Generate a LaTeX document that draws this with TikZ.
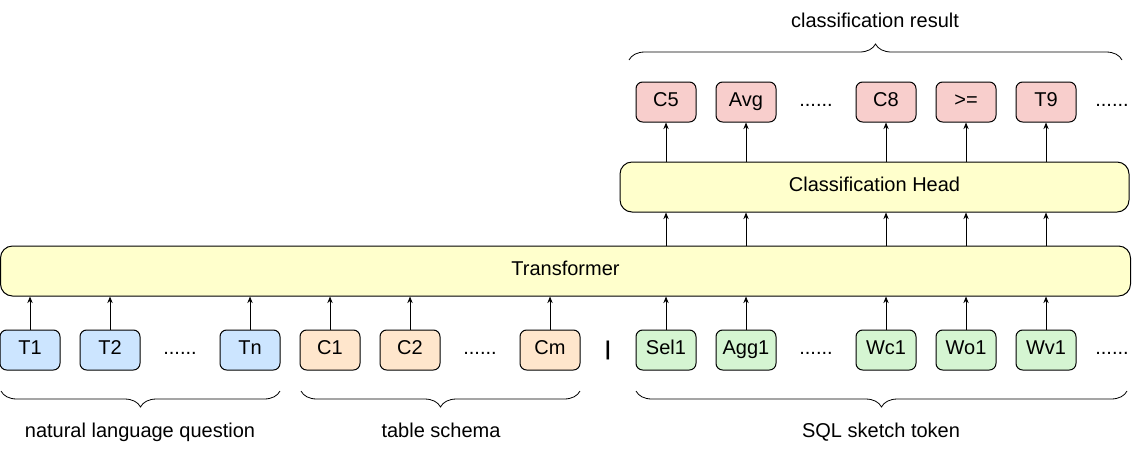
\documentclass[tikz,border=0pt]{standalone}
\usepackage{fontspec}
\setmainfont{Liberation Sans}
\usepackage{xcolor}
\usetikzlibrary{arrows.meta,decorations.pathreplacing}
\definecolor{tokblue}{HTML}{CCE5FF}
\definecolor{tokorange}{HTML}{FFE6CC}
\definecolor{tokgreen}{HTML}{D5F5D2}
\definecolor{tokred}{HTML}{F8CECC}
\definecolor{barfill}{HTML}{FFFFCC}

\begin{document}
\begin{tikzpicture}[x=0.75pt, y=-0.75pt, font=\fontsize{15}{18}\selectfont,
        tok/.style={draw, line width=0.75pt, rounded corners=5pt, minimum width=45pt, minimum height=30pt, inner sep=0pt, text height=0.716em, text depth=0pt},
        bar/.style={draw, line width=0.75pt, fill=barfill, rounded corners=9pt, minimum height=37.5pt, inner sep=0pt, text height=0.716em, text depth=0pt},
        dots/.style={inner sep=0pt, text height=0.716em, text depth=0pt},
        arr/.style={-{Stealth[length=5pt,width=4pt]}, line width=0.6pt},
        brc/.style={decorate, decoration={brace, amplitude=12pt}, line width=0.6pt}]
        \useasboundingbox (0,0) rectangle (1141,451);
        % big blocks
        \node[bar, minimum width=847.5pt] (trans) at (565.5,271) {Transformer};
        \node[bar, minimum width=381.75pt] (head) at (874.5,187) {Classification Head};
        % input tokens
        \node[tok, fill=tokblue] (t1) at (30,350) {T1};
        \node[tok, fill=tokblue] (t2) at (110,350) {T2};
        \node[dots] (d1) at (180,350) {......};
        \node[tok, fill=tokblue] (tn) at (250,350) {Tn};
        \node[tok, fill=tokorange] (c1) at (330,350) {C1};
        \node[tok, fill=tokorange] (c2) at (410,350) {C2};
        \node[dots] (d2) at (480,350) {......};
        \node[tok, fill=tokorange] (cm) at (550,350) {Cm};
        \node (sep) at (608,350) {\bfseries |};
        \node[tok, fill=tokgreen] (sel) at (666,350) {Sel1};
        \node[tok, fill=tokgreen] (agg) at (746,350) {Agg1};
        \node[dots] (d3) at (816,350) {......};
        \node[tok, fill=tokgreen] (wc) at (886,350) {Wc1};
        \node[tok, fill=tokgreen] (wo) at (966,350) {Wo1};
        \node[tok, fill=tokgreen] (wv) at (1046,350) {Wv1};
        \node[dots] (d4) at (1112,350) {......};
        % output tokens
        \node[tok, fill=tokred] (r1) at (666,102) {C5};
        \node[tok, fill=tokred] (r2) at (746,102) {Avg};
        \node[dots] (d5) at (816,102) {......};
        \node[tok, fill=tokred] (r3) at (886,102) {C8};
        \node[tok, fill=tokred] (r4) at (966,102) {>=};
        \node[tok, fill=tokred] (r5) at (1046,102) {T9};
        \node[dots] (d6) at (1112,102) {......};
        % arrows into the transformer
        \draw[arr] (t1) -- (t1 |- trans.south);
        \draw[arr] (t2) -- (t2 |- trans.south);
        \draw[arr] (tn) -- (tn |- trans.south);
        \draw[arr] (c1) -- (c1 |- trans.south);
        \draw[arr] (c2) -- (c2 |- trans.south);
        \draw[arr] (cm) -- (cm |- trans.south);
        \draw[arr] (sel) -- (sel |- trans.south);
        \draw[arr] (agg) -- (agg |- trans.south);
        \draw[arr] (wc) -- (wc |- trans.south);
        \draw[arr] (wo) -- (wo |- trans.south);
        \draw[arr] (wv) -- (wv |- trans.south);
        % transformer to head
        \draw[arr] (trans.north -| sel) -- (head.south -| sel);
        \draw[arr] (trans.north -| agg) -- (head.south -| agg);
        \draw[arr] (trans.north -| wc) -- (head.south -| wc);
        \draw[arr] (trans.north -| wo) -- (head.south -| wo);
        \draw[arr] (trans.north -| wv) -- (head.south -| wv);
        % head to results
        \draw[arr] (r1 |- head.north) -- (r1);
        \draw[arr] (r2 |- head.north) -- (r2);
        \draw[arr] (r3 |- head.north) -- (r3);
        \draw[arr] (r4 |- head.north) -- (r4);
        \draw[arr] (r5 |- head.north) -- (r5);
        % braces and their labels
        \draw[brc] (280,391) -- (1,391);
        \draw[brc] (580,391) -- (301,391);
        \draw[brc] (1127,391) -- (636,391);
        \draw[brc] (629,60) -- (1122,60);
        \node[anchor=base] (lnl) at (140,437) {natural language question};
        \node[anchor=base] (lts) at (441,437) {table schema};
        \node[anchor=base] (lsql) at (881,437) {SQL sketch token};
        \node[anchor=base] (lcls) at (875,27) {classification result};
    \end{tikzpicture}
\end{document}
